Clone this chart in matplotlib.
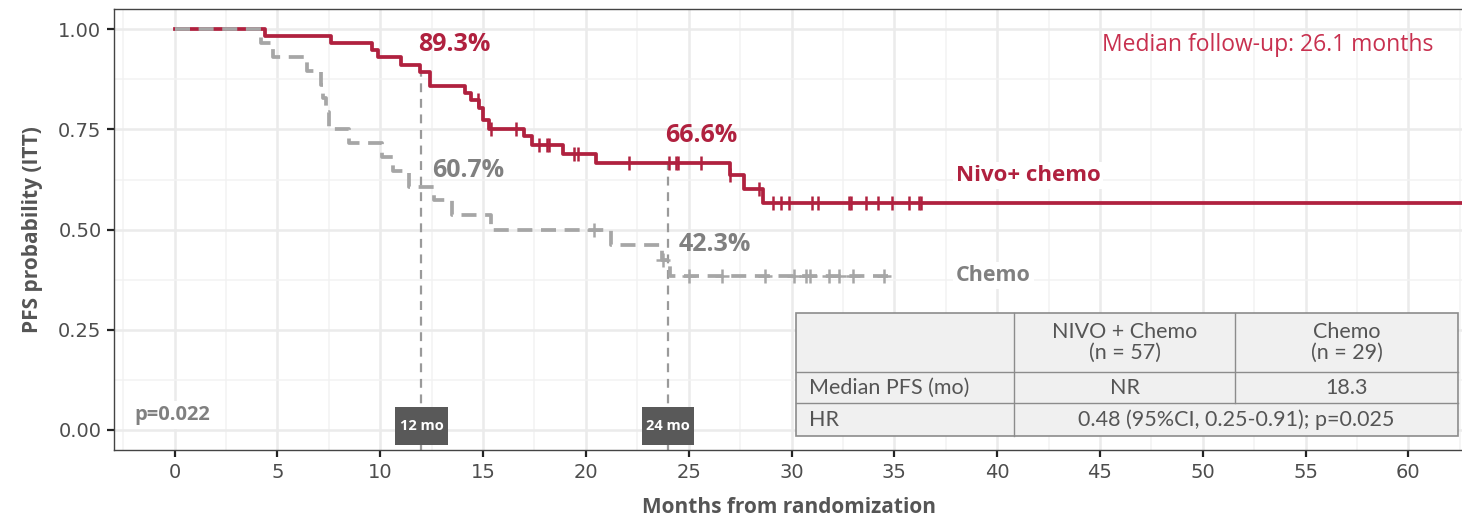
import matplotlib
matplotlib.use("Agg")
import matplotlib.pyplot as plt
from matplotlib.patches import Rectangle
from matplotlib.ticker import MultipleLocator
import numpy as np

# ---------------------------------------------------------------------------
# Kaplan-Meier data (months, survival after each step)
# ---------------------------------------------------------------------------
nivo_times = [0, 4.4, 7.6, 9.6, 9.9, 11.0, 11.95, 12.4, 14.1, 14.4, 14.8, 15.0,
              15.3, 17.0, 17.4, 18.9, 20.5, 27.0, 27.7, 28.6]
nivo_surv = [1.0, 0.983, 0.965, 0.947, 0.930, 0.912, 0.893, 0.858, 0.840, 0.823,
             0.803, 0.774, 0.751, 0.733, 0.711, 0.689, 0.666, 0.637, 0.602, 0.566]
nivo_end = 63.0
nivo_censor = [14.75, 15.4, 16.6, 17.7, 18.1, 18.2, 19.4, 19.6, 22.1, 24.05, 24.4,
               24.5, 25.6, 27.0, 28.4, 29.1, 29.5, 29.9, 31.0, 31.3, 32.8, 32.9,
               33.6, 34.2, 34.9, 35.7, 36.2, 36.3]

chemo_times = [0, 4.2, 4.8, 6.45, 7.1, 7.2, 7.35, 7.5, 8.5, 10.1, 10.6, 11.4,
               12.6, 13.5, 15.4, 21.2, 23.7, 24.1]
chemo_surv = [1.0, 0.966, 0.931, 0.897, 0.862, 0.828, 0.793, 0.752, 0.716, 0.682,
              0.645, 0.607, 0.575, 0.537, 0.500, 0.461, 0.423, 0.384]
chemo_end = 34.9
chemo_censor = [20.4, 23.75, 25.0, 26.6, 28.7, 30.1, 30.7, 30.9, 31.8, 32.3, 33.0, 34.5]

landmarks = [12, 24]
nivo_at = [0.893, 0.666]
chemo_at = [0.607, 0.423]

table_header = ["", "NIVO + Chemo\n(n = 57)", "Chemo\n(n = 29)"]
table_median = ["Median PFS (mo)", "NR", "18.3"]
table_hr = ["HR", "0.48 (95%CI, 0.25-0.91); p=0.025"]

RED = "#B0213F"
GRAY = "#A6A6A6"
TXT_GRAY = "#808080"
BOLD_FONT = ["Open Sans", "DejaVu Sans"]


def surv_at(times, surv, t):
    idx = np.searchsorted(times, t, side="right") - 1
    return np.asarray(surv)[idx]


fig = plt.figure(figsize=(14.62, 5.19), dpi=100)
ax = fig.add_axes([114 / 1462, 69 / 519, 1 - 114 / 1462 + 0.002, (450 - 9.2) / 519])

ax.set_xlim(-2.95, 62.75)
ax.set_ylim(-0.05, 1.05)

# grid
ax.xaxis.set_major_locator(MultipleLocator(5))
ax.xaxis.set_minor_locator(MultipleLocator(2.5))
ax.yaxis.set_major_locator(MultipleLocator(0.25))
ax.yaxis.set_minor_locator(MultipleLocator(0.125))
ax.grid(which="major", color="#EBEBEB", lw=1.8, zorder=0)
ax.grid(which="minor", color="#F2F2F2", lw=1.1, zorder=0)
ax.set_axisbelow(True)
ax.tick_params(which="minor", length=0)
ax.tick_params(which="major", length=5, width=1.6, color="#222222",
               labelsize=14, labelcolor="#4d4d4d", pad=4,
               labelfontfamily="DejaVu Sans")
ax.yaxis.set_major_formatter(matplotlib.ticker.FormatStrFormatter("%.2f"))
for side in ["left", "bottom", "top"]:
    ax.spines[side].set_color("#444444")
    ax.spines[side].set_linewidth(1.0)
ax.spines["right"].set_visible(False)

# landmark guide lines
ax.vlines(landmarks, -0.05, nivo_at, colors="#9a9a9a", linestyles=(0, (4, 3)),
          lw=1.6, zorder=2)

# Nivo + chemo curve
ax.step(nivo_times + [nivo_end], nivo_surv + [nivo_surv[-1]], where="post",
        color=RED, lw=2.7, zorder=4)
ax.plot(nivo_censor, surv_at(nivo_times, nivo_surv, nivo_censor), ls="none",
        marker="|", ms=10, mew=1.8, color=RED, zorder=4)

# Chemo curve
ax.step(chemo_times + [chemo_end], chemo_surv + [chemo_surv[-1]], where="post",
        color=GRAY, lw=2.7, dashes=(4.0, 2.3), zorder=5)
ax.plot(chemo_censor, surv_at(chemo_times, chemo_surv, chemo_censor), ls="none",
        marker="+", ms=10, mew=1.8, color=GRAY, zorder=5)

# landmark percentages
for m, v in zip(landmarks, nivo_at):
    ax.text(m - 0.15, v + 0.07, f"{v * 100:.1f}%", color=RED, fontsize=18,
            fontweight="bold", family=BOLD_FONT, va="center", ha="left", zorder=6)
for m, v in zip(landmarks, chemo_at):
    ax.text(m + 0.5, v + 0.04, f"{v * 100:.1f}%", color=TXT_GRAY, fontsize=18,
            fontweight="bold", family=BOLD_FONT, va="center", ha="left", zorder=6)

# landmark boxes
for m in landmarks:
    ax.add_patch(Rectangle((m - 1.27, -0.037), 2.54, 0.094, facecolor="#595959",
                           edgecolor="none", zorder=6))
    ax.text(m, 0.01, f"{m} mo", color="white", fontsize=10.5, fontweight="bold",
            family=BOLD_FONT, ha="center", va="center", zorder=7)

# series labels
ax.text(38.0, 0.635, "Nivo+ chemo", color=RED, fontsize=16, fontweight="bold",
        family=BOLD_FONT, va="center", ha="left", zorder=6,
        bbox=dict(fc="white", ec="none", pad=2))
ax.text(38.0, 0.386, "Chemo", color=TXT_GRAY, fontsize=15.5, fontweight="bold",
        family=BOLD_FONT, va="center", ha="left", zorder=6,
        bbox=dict(fc="white", ec="none", pad=2))

ax.text(-1.95, 0.037, "p=0.022", color=TXT_GRAY, fontsize=14.5, fontweight="bold",
        family=BOLD_FONT, va="center", ha="left", zorder=6,
        bbox=dict(fc="white", ec="none", pad=3))

ax.text(61.2, 0.961, "Median follow-up: 26.1 months", color="#C8304F", fontsize=16.5,
        family=BOLD_FONT, va="center", ha="right", zorder=6)

# summary table (axes fraction coordinates)
col_w = [217, 221, 222]
row_h = [59, 31, 33]
x0, y_top = (795 - 114) / 1348, (450 - 313) / 440.8
sx, sy = 1 / 1348, 1 / 440.8
tot_w = sum(col_w) * sx
tot_h = sum(row_h) * sy
ax.add_patch(Rectangle((x0, y_top - tot_h), tot_w, tot_h, transform=ax.transAxes,
                       facecolor="#F0F0F0", edgecolor="#8c8c8c", lw=1.2, zorder=8))
col_x = np.cumsum([0] + col_w) * sx + x0
row_y = y_top - np.cumsum([0] + row_h) * sy
for y in row_y[1:-1]:
    ax.plot([x0, x0 + tot_w], [y, y], transform=ax.transAxes, color="#8c8c8c",
            lw=1.0, zorder=9)
ax.plot([col_x[1]] * 2, [row_y[0], row_y[3]], transform=ax.transAxes,
        color="#8c8c8c", lw=1.0, zorder=9)
ax.plot([col_x[2]] * 2, [row_y[0], row_y[2]], transform=ax.transAxes,
        color="#8c8c8c", lw=1.0, zorder=9)

tkw = dict(transform=ax.transAxes, fontsize=15.5, color="#555555",
           family=["Lato", "DejaVu Sans"], fontweight="normal",
           va="center", zorder=10, linespacing=1.1)
for j, s in enumerate(table_header):
    ax.text((col_x[j] + col_x[j + 1]) / 2, (row_y[0] + row_y[1]) / 2, s, ha="center", **tkw)
for j, s in enumerate(table_median):
    if j == 0:
        ax.text(col_x[0] + 12 * sx, (row_y[1] + row_y[2]) / 2, s, ha="left", **tkw)
    else:
        ax.text((col_x[j] + col_x[j + 1]) / 2, (row_y[1] + row_y[2]) / 2, s, ha="center", **tkw)
ax.text(col_x[0] + 12 * sx, (row_y[2] + row_y[3]) / 2, table_hr[0], ha="left", **tkw)
ax.text((col_x[1] + col_x[3]) / 2, (row_y[2] + row_y[3]) / 2, table_hr[1], ha="center", **tkw)

ax.set_xlabel("Months from randomization", fontsize=15, fontweight="bold",
              color="#555555", family=BOLD_FONT, labelpad=11)
ax.set_ylabel("PFS probability (ITT)", fontsize=15, fontweight="bold",
              color="#555555", family=BOLD_FONT, labelpad=11)

fig.savefig("out.png", dpi=100)
